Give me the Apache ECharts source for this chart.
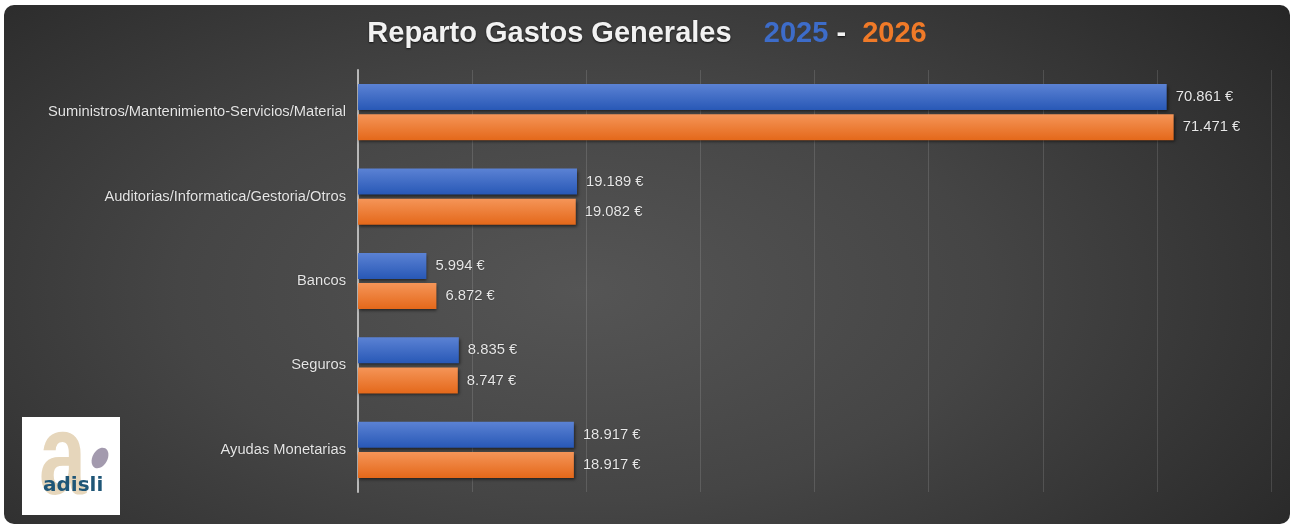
<!DOCTYPE html>
<html>
<head>
<meta charset="utf-8">
<script src="https://cdn.jsdelivr.net/npm/echarts@6/dist/echarts.min.js"></script>
<style>
  html, body { margin:0; padding:0; background:#fff; }
  #box {
    position:absolute; left:4px; top:5px; width:1286px; height:519px;
    border-radius:10px; overflow:hidden;
    background: radial-gradient(ellipse 70% 90% at 45% 55%, #555555 0%, #454545 45%, #262626 100%);
  }
  #chart { width:100%; height:100%; }
</style>
</head>
<body>
<div id="box"><div id="chart"></div></div>
<script>
// categorias y valores
var categories = [
  'Suministros/Mantenimiento-Servicios/Material',
  'Auditorias/Informatica/Gestoria/Otros',
  'Bancos',
  'Seguros',
  'Ayudas Monetarias'
];
var valores2025 = [70861, 19189, 5994, 8835, 18917];
var valores2026 = [71471, 19082, 6872, 8747, 18917];

function euro(v){
  return String(v).replace(/\B(?=(\d{3})+(?!\d))/g, '.') + ' €';
}

var myChart = echarts.init(document.getElementById('chart'));

function barStyle(top, bottom){
  return {
    color: new echarts.graphic.LinearGradient(0, 0, 0, 1, [
      {offset:0, color:top},
      {offset:1, color:bottom}
    ]),
    shadowColor:'rgba(0,0,0,0.55)',
    shadowBlur:3,
    shadowOffsetY:2,
    shadowOffsetX:1
  }
}

var labelStyle = {
  show:true,
  position:'right',
  distance:9,
  color:'#e8e8e8',
  fontSize:14.8,
  fontFamily:'Liberation Sans, Arial, sans-serif',
  textShadowColor:'rgba(0,0,0,0.7)',
  textShadowBlur:1,
  formatter:function(p){ return euro(p.value) }
}

var titleFont = 'Liberation Sans, Arial, sans-serif';

var option = {
  backgroundColor:'transparent',
  animation:false,
  title:{
    left:'center',
    top:9,
    text:'{w|Reparto Gastos Generales}    {b|2025}{w| -  }{o|2026}',
    textStyle:{
      fontSize:29,
      rich:{
        w:{color:'#f2f2f2', fontSize:29, fontWeight:'bold', fontFamily:titleFont,
           textShadowColor:'rgba(0,0,0,0.7)', textShadowBlur:2, textShadowOffsetY:1},
        b:{color:'#3d6cc9', fontSize:29, fontWeight:'bold', fontFamily:titleFont},
        o:{color:'#f07a28', fontSize:29, fontWeight:'bold', fontFamily:titleFont}
      }
    }
  },
  grid:{ left:354, top:65, right:19, bottom:32, containLabel:false },
  xAxis:{
    type:'value',
    min:0, max:80000, interval:10000,
    axisLabel:{show:false},
    axisLine:{show:false},
    axisTick:{show:false},
    splitLine:{lineStyle:{color:'rgba(255,255,255,0.13)', width:1}}
  },
  yAxis:{
    type:'category',
    inverse:true,
    data:categories,
    axisTick:{show:false},
    axisLine:{lineStyle:{color:'#b8b8b8', width:2}},
    axisLabel:{
      color:'#e6e6e6',
      fontSize:14.7,
      margin:12,
      fontFamily:'Liberation Sans, Arial, sans-serif',
      textShadowColor:'rgba(0,0,0,0.7)',
      textShadowBlur:1
    }
  },
  series:[
    {
      name:'2025', type:'bar', data:valores2025,
      barWidth:26, barGap:'16%',
      itemStyle:barStyle('#5b82d4', '#2858b6'),
      label:labelStyle
    },
    {
      name:'2026', type:'bar', data:valores2026,
      barWidth:26, barGap:'16%',
      itemStyle:barStyle('#f59558', '#e4681a'),
      label:labelStyle
    }
  ],
  graphic:[
    { type:'rect', left:18, top:412, shape:{width:98, height:98}, style:{fill:'#ffffff'} },
    { type:'text', x:35, y:400, scaleX:0.85, scaleY:1.15, style:{text:'a', fill:'#e6d6bb', font:'bold 100px Liberation Sans, Arial, sans-serif'} },
    { type:'ellipse', x:96, y:453, rotation:-0.5, shape:{cx:0, cy:0, rx:7.5, ry:11}, style:{fill:'#a39aae'} },
    { type:'text', left:39, top:471, style:{text:'adisli', fill:'#1f5677', font:'bold 20px DejaVu Sans, sans-serif'} }
  ]
};

myChart.setOption(option);
</script>
</body>
</html>
